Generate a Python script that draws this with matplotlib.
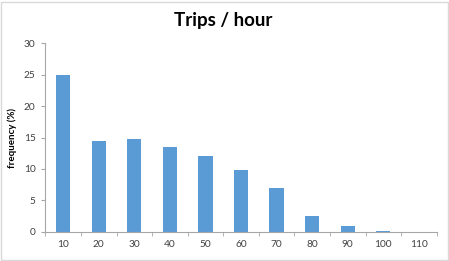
import matplotlib.pyplot as plt
import matplotlib.patches as mpatches
import numpy as np

BLUE = "#5b9bd5"
AXIS = "#a6a6a6"
TEXT = "#404040"

categories = ["10", "20", "30", "40", "50", "60", "70", "80", "90", "100", "110"]
frequency = [24.9, 14.45, 14.7, 13.5, 12.1, 9.8, 6.95, 2.5, 0.9, 0.15, 0.0]

plt.rcParams["font.family"] = ["Lato", "DejaVu Sans"]

fig = plt.figure(figsize=(4.49, 2.61), dpi=100)
ax = fig.add_axes([0.101, 0.112, 0.8716, 0.722])

x = np.arange(len(categories))
ax.bar(x, frequency, width=0.4, color=BLUE)

ax.set_xlim(-0.5, len(categories) - 0.5)
ax.set_ylim(0, 30)
ax.set_yticks(np.arange(0, 31, 5))
ax.set_xticks(x)
ax.set_xticklabels(categories)
ax.set_xticks(np.arange(-0.5, len(categories) + 0.5, 1), minor=True)
ax.tick_params(axis="x", which="major", length=0, pad=6, labelsize=7.3, labelcolor=TEXT)
ax.tick_params(axis="x", which="minor", length=3, color=AXIS, direction="out")
ax.tick_params(axis="y", length=3, color=AXIS, labelsize=7.3, labelcolor=TEXT, pad=4)

for s in ["top", "right"]:
    ax.spines[s].set_visible(False)
for s in ["left", "bottom"]:
    ax.spines[s].set_color(AXIS)
    ax.spines[s].set_linewidth(0.8)

ax.set_ylabel("frequency (%)", fontsize=7, fontweight="bold", color="black", labelpad=5)
fig.text(0.497, 0.92, "Trips / hour", ha="center", va="center", fontsize=13.5, fontweight="bold")

fig.patches.append(mpatches.Rectangle((0.003, 0.004), 0.994, 0.99, transform=fig.transFigure,
                                      fill=False, edgecolor="#d9d9d9", linewidth=1))

fig.savefig("out.png", dpi=100)
